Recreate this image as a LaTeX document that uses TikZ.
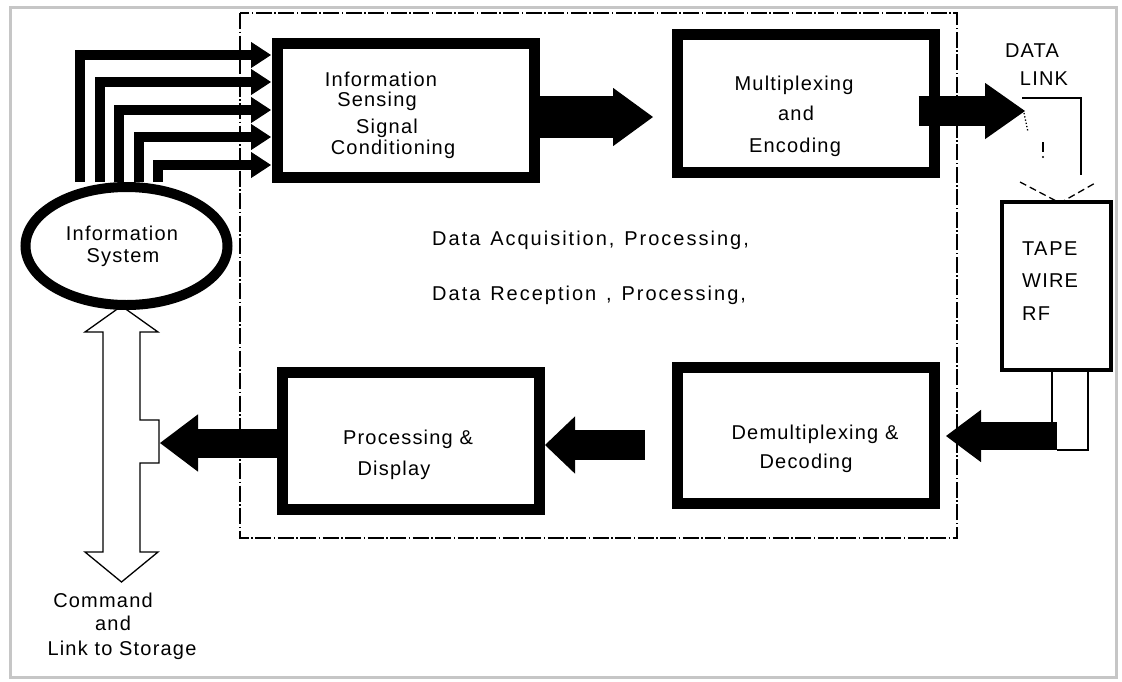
\documentclass[tikz,border=0pt]{standalone}
\usepackage{fontspec}
\setmainfont{Liberation Sans}[LetterSpace=6]
\newfontfamily\widespaced{Liberation Sans}[LetterSpace=10, WordSpace=1.3]
\usetikzlibrary{arrows.meta,shapes.geometric}

\begin{document}
\begin{tikzpicture}[x=1pt,y=-1pt,
  box/.style={draw, line width=11pt, fill=white, inner sep=0pt, minimum width=257pt},
  lbl/.style={inner sep=0pt, anchor=base, font=\fontsize{20}{24}\selectfont},
  feed/.style={line width=10pt, shorten >=1pt,
    -{Triangle[length=20pt,width=26pt,line width=1pt]}},
  block/.style n args={3}{line width=#1,
    -{Triangle[length=#2,width=#3,line width=1.5pt]}},
  thinline/.style={line width=1.3pt}]

% page and outer frame
\fill[white] (0,0) rectangle (1122,681);
\useasboundingbox (0,0) rectangle (1122,681);
\draw[gray!45, line width=3pt] (10,7) rectangle (1116,677);

% acquisition / reception frame
\draw[line width=1.4pt, dash pattern=on 16pt off 2.5pt on 1.5pt off 2.5pt]
  (240,13) rectangle (957,538);

% main blocks
\node[box, minimum height=134pt] (sense) at (406,110.5) {};
\node[box, minimum height=138pt] (mux)   at (806,103.5) {};
\node[box, minimum height=136pt] (demux) at (806,435.5) {};
\node[box, minimum height=137pt] (disp)  at (411,441) {};
\node[draw, line width=4pt, fill=white, inner sep=0pt,
      minimum width=109pt, minimum height=168pt] (tape) at (1056.5,286) {};

% block labels
\node[lbl] (s1) at (381,86)  {Information};
\node[lbl] (s2) at (377,106) {Sensing};
\node[lbl] (s3) at (387,133) {Signal};
\node[lbl] (s4) at (393,154) {Conditioning};

\node[lbl] (m1) at (794,90)  {Multiplexing};
\node[lbl] (m2) at (796,120) {and};
\node[lbl] (m3) at (795,152) {Encoding};

\node[lbl] (d1) at (815,439) {Demultiplexing \&};
\node[lbl] (d2) at (806,468) {Decoding};

\node[lbl] (p1) at (408,444) {Processing \&};
\node[lbl] (p2) at (394,475) {Display};

\node[lbl, anchor=base west] (c1) at (432,245)
  {\widespaced Data Acquisition, Processing,};
\node[lbl, anchor=base west] (c2) at (432,300)
  {\widespaced Data Reception , Processing,};

\node[lbl] (dl1) at (1032,57) {DATA};
\node[lbl] (dl2) at (1044,85) {LINK};

\node[lbl, anchor=base west] (tp1) at (1022,255) {TA\kern2pt PE};
\node[lbl, anchor=base west] (tp2) at (1022,287) {WIRE};
\node[lbl, anchor=base west] (tp3) at (1022,320) {RF};

\node[lbl] (k1) at (103,607) {Command};
\node[lbl] (k2) at (113,630) {and};
\node[lbl] (k3) at (122,655) {Link to Storage};

% hollow double-headed arrow to command and storage
\draw[thinline, fill=white, line join=miter]
  (121.5,306) -- (158,332) -- (140,332) -- (140,420) -- (159,420)
  -- (159,463) -- (140,463) -- (140,552) -- (158,552) -- (121.5,582)
  -- (85,552) -- (103,552) -- (103,332) -- (85,332) -- cycle;

% information system
\node[draw, ellipse, line width=10pt, fill=white, inner sep=0pt,
      minimum width=202pt, minimum height=118pt] (info) at (126.5,246) {};
\node[lbl] (i1) at (122,240) {Information};
\node[lbl] (i2) at (123,262) {System};

% sensor feed lines
\coordinate (f1) at (80,0);
\coordinate (f2) at (100,0);
\coordinate (f3) at (119,0);
\coordinate (f4) at (139,0);
\coordinate (f5) at (158,0);
\draw[feed] (info.north -| f1) |- ([yshift=55.5pt]sense.west);
\draw[feed] (info.north -| f2) |- ([yshift=28.5pt]sense.west);
\draw[feed] (info.north -| f3) |- ([yshift=0.5pt]sense.west);
\draw[feed] (info.north -| f4) |- ([yshift=-26.5pt]sense.west);
\draw[feed] (info.north -| f5) |- ([yshift=-54.5pt]sense.west);

% data link
\coordinate (dlink) at (1025,111);
\coordinate (rx) at (1057,436);
\coordinate (notch) at (160,443);
\draw[thinline] (1022,98) -| (1081,175);
\draw[thinline, dotted] (1024,113) -- (1028,132);
\draw[thinline] (1043,142) -- (1043,152);
\fill (1043,157) circle (1.1pt);
\draw[thinline, dash pattern=on 7pt off 4pt] (1020,182) -- (1060,203) -- (1097,182);

% return link under the tape box
\draw[thinline] (1052,372) -- (1052,436);
\draw[thinline] (1088,372) |- (1057,450);

% block arrows
\draw[block={42pt}{40pt}{58pt}, shorten >=19pt]
  ([yshift=-6.5pt]sense.east) -- ([yshift=-6.5pt]sense.east -| mux.west);
\draw[block={30pt}{40pt}{56pt}]
  ([xshift=-21.5pt,yshift=-7.5pt]mux.east) -- (dlink);
\draw[block={28pt}{35pt}{52pt}, shorten >=6pt]
  (rx) -- (rx -| demux.east);
\draw[block={30pt}{30pt}{57pt}, shorten <=27.5pt]
  ([yshift=-9.5pt]demux.west) -- ([yshift=-9.5pt]demux.west -| disp.east);
\draw[block={29pt}{38pt}{57pt}]
  ([yshift=-2pt]disp.west) -- (notch);
\end{tikzpicture}
\end{document}
